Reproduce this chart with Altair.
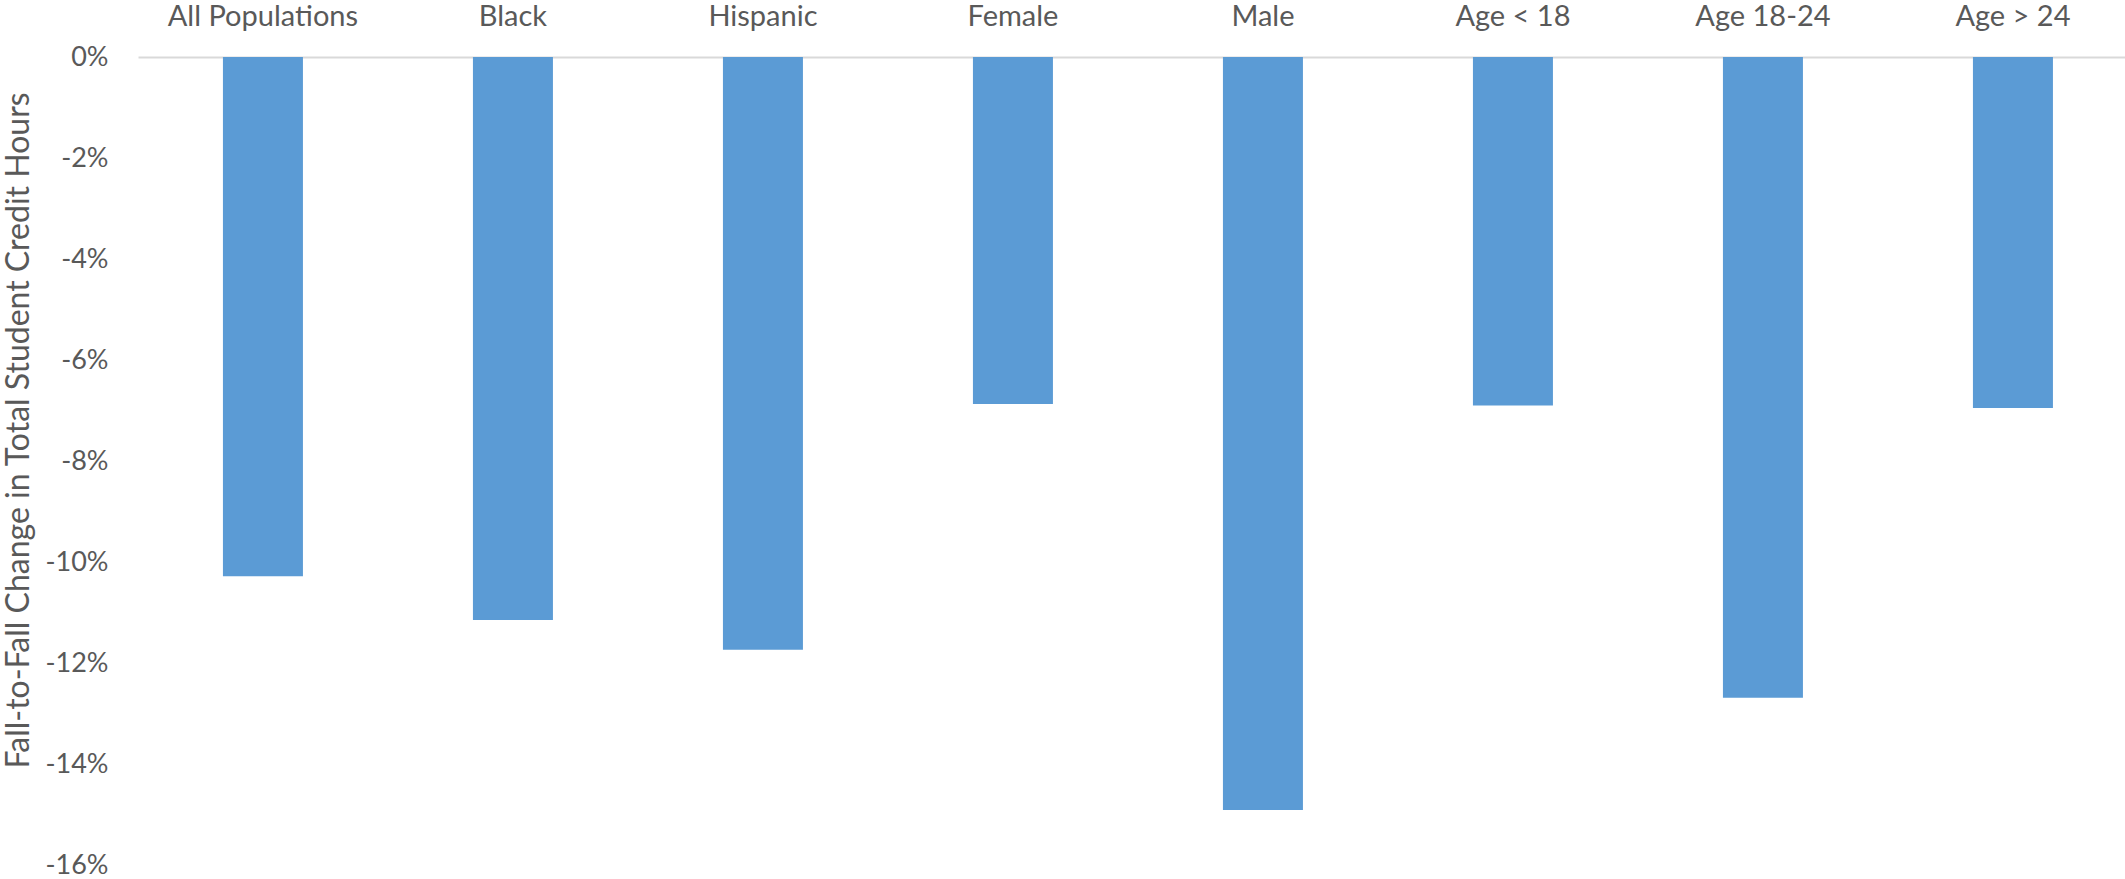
import altair as alt
import pandas as pd

# Fall-to-fall change in total student credit hours, by population group
groups = ["All Populations", "Black", "Hispanic", "Female", "Male",
          "Age < 18", "Age 18-24", "Age > 24"]
changes = [-0.1028, -0.1115, -0.1174, -0.0687, -0.1491, -0.0690, -0.1269, -0.0695]
y_ticks = [0, -0.02, -0.04, -0.06, -0.08, -0.10, -0.12, -0.14, -0.16]

df = pd.DataFrame({"group": groups, "change": changes})

FONT = "Lato"
TEXT = "#595959"

chart = (
    alt.Chart(df)
    .mark_bar(color="#5B9BD5")
    .encode(
        x=alt.X(
            "group:N",
            sort=groups,
            # 250 px per category; the last category runs past the right edge
            scale=alt.Scale(paddingInner=0.68, paddingOuter=0.314, align=0.541),
            axis=alt.Axis(
                orient="top",
                title=None,
                labelAngle=0,
                labelFont=FONT,
                labelFontSize=29,
                labelColor=TEXT,
                labelPadding=26,
                labelLimit=400,
                ticks=False,
                domainColor="#D9D9D9",
                domainWidth=2,
            ),
        ),
        y=alt.Y(
            "change:Q",
            scale=alt.Scale(domain=[-0.16, 0], nice=False),
            axis=alt.Axis(
                values=y_ticks,
                format=".0%",
                labelExpr="replace(datum.label, '\u2212', '-')",
                title="Fall-to-Fall Change in Total Student Credit Hours",
                titleFont=FONT,
                titleFontSize=32,
                titleFontWeight="normal",
                titleColor=TEXT,
                titleAngle=270,
                titleAlign="center",
                titleBaseline="middle",
                titleX=-120,
                titleY=373,
                labelFont=FONT,
                labelFontSize=27,
                labelColor=TEXT,
                labelPadding=30,
                ticks=False,
                domain=False,
                grid=False,
            ),
        ),
    )
    .properties(
        width=1987,
        height=808,
        background="white",
        autosize=alt.AutoSizeParams(type="none"),
        padding={"left": 138, "top": 57, "right": 0, "bottom": 14},
    )
    .configure_view(strokeWidth=0)
)

chart.save("out.html", embed_options={"renderer": "svg", "actions": False})
